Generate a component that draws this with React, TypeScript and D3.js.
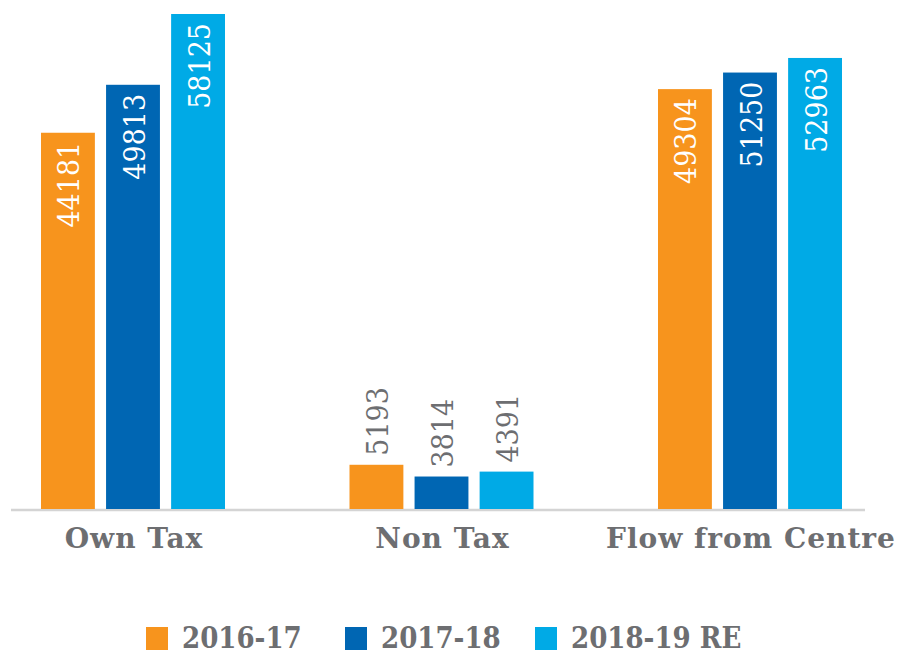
import React from "react";
import * as d3 from "d3";

const categories = ["Own Tax", "Non Tax", "Flow from Centre"];
const seriesNames = ["2016-17", "2017-18", "2018-19 RE"];
const values2016 = [44181, 5193, 49304];
const values2017 = [49813, 3814, 51250];
const values2018 = [58125, 4391, 52963];
const colors = ["#F7941D", "#0066B3", "#00AAE6"];

const W = 901;
const H = 654;
const baseline = 509;
const gray = "#6D6E71";
const serif = "DejaVu Serif, serif";
const serifCond = "DejaVu Serif Condensed, DejaVu Serif, serif";

export default function App() {
  const series = [values2016, values2017, values2018];
  const x0 = d3.scalePoint<string>().domain(categories).range([133, 750]);
  const x1 = d3
    .scaleBand<number>()
    .domain([0, 1, 2])
    .range([-92, 92])
    .paddingInner(11 / 64);
  const y = d3.scaleLinear().domain([0, 58125]).range([baseline, 14]);

  const legendX = [146, 345, 535];

  return (
    <svg
      width={W}
      height={H}
      style={{ position: "absolute", left: 0, top: 0, background: "#fff" }}
    >
      <line x1={11} x2={865} y1={baseline + 1} y2={baseline + 1} stroke="#D4D4D4" strokeWidth={2.5} />
      {categories.map((c, ci) => (
        <g key={c}>
          {series.map((vals, si) => {
            const v = vals[ci];
            const bx = (x0(c) as number) + (x1(si) as number);
            const bw = x1.bandwidth();
            const top = y(v);
            const inside = baseline - top > 120;
            const cx = bx + bw / 2 + 1;
            const ty = inside ? top + 9 : top - 9;
            return (
              <g key={si}>
                <rect x={bx} y={top} width={bw} height={baseline - top} fill={colors[si]} />
                <text
                  transform={`translate(${cx},${ty}) rotate(-90)`}
                  textAnchor={inside ? "end" : "start"}
                  dominantBaseline="central"
                  fill={inside ? "#fff" : gray}
                  fontFamily={serifCond}
                  fontSize={30}
                >
                  {v}
                </text>
              </g>
            );
          })}
          <text
            x={(x0(c) as number) + 1}
            y={548}
            textAnchor="middle"
            fill={gray}
            fontFamily={serif}
            fontWeight="bold"
            fontSize={28}
            letterSpacing={1}
          >
            {c}
          </text>
        </g>
      ))}
      {seriesNames.map((s, i) => (
        <g key={s}>
          <rect x={legendX[i]} y={627} width={22} height={23} fill={colors[i]} />
          <text
            x={legendX[i] + 36}
            y={648}
            fill={gray}
            fontFamily={serifCond}
            fontWeight="bold"
            fontSize={29}
          >
            {s}
          </text>
        </g>
      ))}
    </svg>
  );
}
